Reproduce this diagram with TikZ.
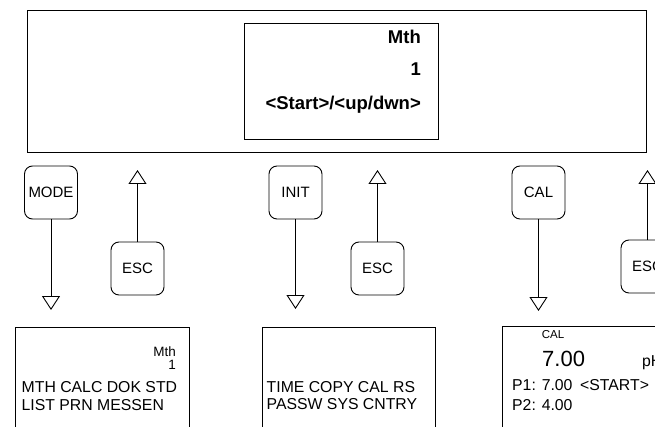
\documentclass[tikz,border=0pt]{standalone}
\usepackage{fontspec}
\setmainfont{Liberation Sans}
\usetikzlibrary{arrows.meta}
\begin{document}
\begin{tikzpicture}[x=1pt,y=-1pt,
  frame/.style={draw, line width=1pt, inner sep=0pt, anchor=north west},
  btn/.style={draw, line width=0.9pt, rounded corners=8pt, minimum width=53pt, minimum height=53pt, inner sep=0pt, font=\fontsize{15}{18}\selectfont},
  conn/.style={line width=0.8pt, -{Triangle[open,length=14pt,width=18pt,line width=0.9pt]}},
  txt/.style={inner sep=0pt, font=\fontsize{15.8}{19}\selectfont},
  small/.style={inner sep=0pt, font=\fontsize{13.5}{16}\selectfont},
  big/.style={inner sep=0pt, font=\fontsize{18.5}{22}\selectfont\bfseries},
]
\clip (0,0) rectangle (655,427);
\fill[white] (0,0) rectangle (655,427);
% top display
\node[frame, minimum width=619pt, minimum height=142pt] (outer) at (27,10) {};
\node[frame, minimum width=194pt, minimum height=116pt] (inner) at (244,23) {};
\node[big, anchor=base east] (tmth) at (421,44) {Mth};
\node[big, anchor=base east] (tone) at (421,76) {1};
\node[big, anchor=base east] (tstart) at (421,110) {<Start>/<up/dwn>};
% buttons
\node[btn] (mode) at (51,192.5) {MODE};
\node[btn] (esca) at (137.5,268.5) {ESC};
\node[btn] (init) at (295.5,192.5) {INIT};
\node[btn] (escb) at (377.5,268.5) {ESC};
\node[btn] (cal) at (538.5,192.5) {CAL};
\node[btn] (escc) at (647.5,266.5) {ESC};
% arrow ends
\coordinate (modetip) at (51,310);
\coordinate (inittip) at (295.5,309);
\coordinate (caltip) at (538.5,311);
\coordinate (escatip) at (137.5,170);
\coordinate (escbtip) at (377.5,170);
\coordinate (escctip) at (647.5,170);
\draw[conn] (mode.south) -- (modetip);
\draw[conn] (init.south) -- (inittip);
\draw[conn] (cal.south) -- (caltip);
\draw[conn] (esca.north) -- (escatip);
\draw[conn] (escb.north) -- (escbtip);
\draw[conn] (escc.north) -- (escctip);
% bottom displays
\node[frame, minimum width=174pt, minimum height=150pt] (boxa) at (15,327) {};
\node[frame, minimum width=173pt, minimum height=150pt] (boxb) at (262,327) {};
\node[frame, minimum width=200pt, minimum height=150pt] (boxc) at (502,326) {};
% box a text
\node[small, anchor=base east] (amth) at (176,356.7) {Mth};
\node[small, anchor=base east] (aone) at (176,369.5) {1};
\node[txt, anchor=base west] (aline1) at (21.5,392.7) {MTH CALC DOK STD};
\node[txt, anchor=base west] (aline2) at (21.5,410) {LIST PRN MESSEN};
% box b text
\node[txt, anchor=base west] (bline1) at (266.5,392.7) {TIME COPY CAL RS};
\node[txt, anchor=base west] (bline2) at (266.5,409.3) {PASSW SYS CNTRY};
% box c text
\node[inner sep=0pt, font=\fontsize{11.5}{13}\selectfont, anchor=base] (ccal) at (553,338.3) {CAL};
\node[inner sep=0pt, font=\fontsize{22}{26}\selectfont, anchor=base west] (cval) at (542,366.7) {7.00};
\node[txt, anchor=base west] (cph) at (642,366.7) {pH};
\node[txt, anchor=base west] (cp1) at (512,390) {P1: 7.00};
\node[txt, anchor=base west] (cstart) at (580,390) {<START>};
\node[txt, anchor=base west] (cp2) at (512,410) {P2: 4.00};
\end{tikzpicture}
\end{document}
